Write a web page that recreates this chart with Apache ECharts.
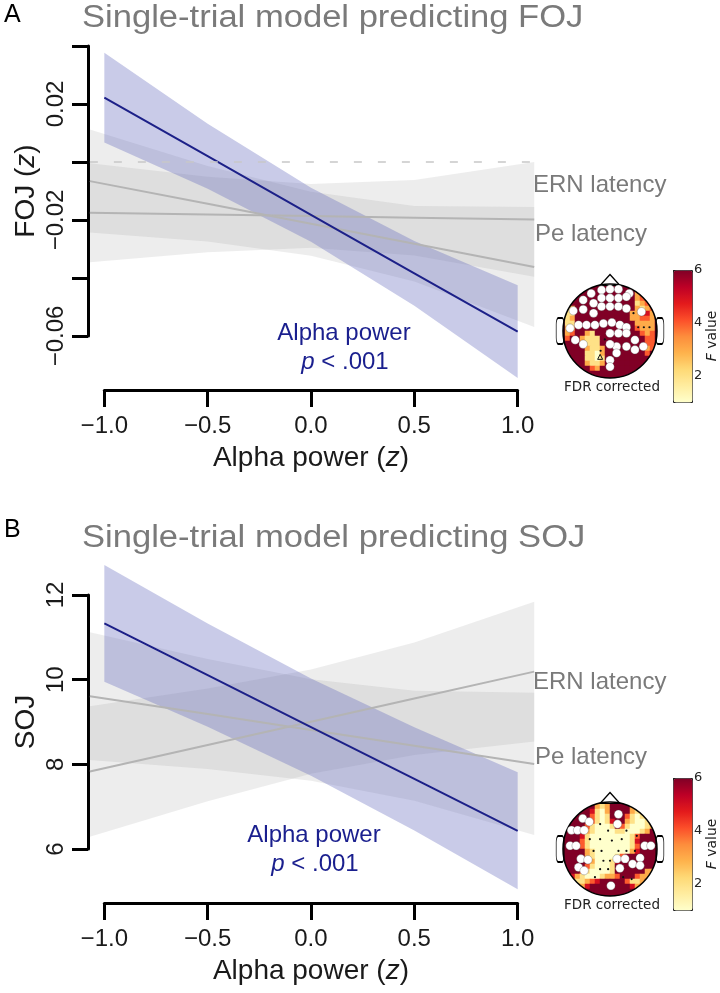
<!DOCTYPE html>
<html><head><meta charset="utf-8">
<script src="https://cdn.jsdelivr.net/npm/echarts@6/dist/echarts.min.js"></script>
<style>html,body{margin:0;padding:0;background:#fff}#c{width:720px;height:993px}</style>
</head><body><div id="c"></div>
<script>
// ================= DATA =================
const xFit = [-1, -0.5, 0, 0.5, 1];          // alpha power (z) where fit / CI were read
const xLat = [-1.07, -0.5, 0, 0.5, 1.08];    // x range of latency effects
const xTicks = [-1, -0.5, 0, 0.5, 1];

// Panel A : FOJ (z)
const alphaFitA = [0.0222, 0.0020, -0.0182, -0.0384, -0.0585];
const alphaLoA  = [0.0067, -0.0092, -0.0275, -0.0496, -0.0745];
const alphaHiA  = [0.0377, 0.0132, -0.0089, -0.0272, -0.0425];
const ernFitA = [-0.0175, -0.0181, -0.0186, -0.0192, -0.0198];
const ernLoA  = [-0.0346, -0.0311, -0.0296, -0.0322, -0.0396];
const ernHiA  = [-0.0004, -0.0051, -0.0076, -0.0062, 0.0000];
const peFitA  = [-0.0066, -0.0144, -0.0213, -0.0282, -0.0362];
const peLoA   = [-0.0243, -0.0274, -0.0323, -0.0412, -0.0569];
const peHiA   = [0.0112, -0.0014, -0.0103, -0.0152, -0.0155];
const refLineA = 0;
const yTicksA = [-0.06, 0.04, 0.02];          // [min, max, step]
const yLabelsA = [-0.06, -0.02, 0.02];

// Panel B : SOJ
const alphaFitB = [11.33, 10.105, 8.88, 7.655, 6.43];
const alphaLoB  = [9.95, 8.885, 7.73, 6.435, 5.05];
const alphaHiB  = [12.71, 11.325, 10.03, 8.875, 7.81];
const ernFitB = [7.83, 8.456, 9.005, 9.554, 10.19];
const ernLoB  = [6.29, 7.13, 7.78, 8.22, 8.54];
const ernHiB  = [9.37, 9.79, 10.24, 10.88, 11.84];
const peFitB  = [9.61, 9.19, 8.81, 8.44, 8.01];
const peLoB   = [8.10, 7.89, 7.61, 7.14, 6.33];
const peHiB   = [11.12, 10.49, 10.01, 9.74, 9.69];
const yTicksB = [6, 12, 2];
const yLabelsB = [6, 8, 10, 12];

// Topographic F maps (rows top->bottom, digits = F value)
const topoA = [
"66666666666666666666",
"66666666666666666666",
"66666666666666636666",
"66666666666666634666",
"62666666666666623466",
"62366666666666632346",
"62266666666666335536",
"62366666666666334436",
"62266666666666633336",
"63366666666666643336",
"63466326666666664346",
"64663222666666666446",
"66663222666666666446",
"66666322366666666346",
"66666221366666666466",
"66666221266666666666",
"66666322366666666666",
"66666643666666666666",
"66666666666666666666",
"66666666666666666666"];
const topoB = [
"66666662236666666666",
"66666663236666324666",
"66666652136666322466",
"66666642126664212366",
"66666642125663211246",
"66666421112642111236",
"66666321111221112366",
"66665211111111246666",
"66664211111111256666",
"66664211111111246666",
"66666321111111356666",
"66666321111246666666",
"66666631112566666666",
"66666421112666666666",
"66664211112666666336",
"66532111233466643356",
"66322345666664223666",
"66643566666666534666",
"66666666666666666666",
"66666666666666666666"];
// significant electrodes (head units, y down)
const sigA = [[-0.40,-0.80],[-0.18,-0.87],[0,-0.89],[0.18,-0.89],[0.41,-0.80],
[-0.57,-0.66],[-0.35,-0.59],[-0.18,-0.70],[0,-0.70],[0.18,-0.70],[0.35,-0.73],
[-0.78,-0.43],[-0.57,-0.46],[-0.35,-0.38],[-0.18,-0.52],[0,-0.52],[0.18,-0.52],[0.35,-0.48],
[-0.85,-0.06],[-0.67,-0.13],[-0.50,-0.13],[-0.32,-0.13],[-0.14,-0.16],[0.04,-0.18],[0.21,-0.13],[0.35,-0.08],
[-0.74,0.19],[-0.57,0.28],[0.0,0.05],[0.18,0.05],[0.35,0.05],[0.53,0.19],
[0.14,0.33],[0.35,0.33],[0.53,0.40],[0.71,0.33],[0.0,0.28],
[0.0,0.62],[0.14,0.47],[0.0,0.76],[0.67,-0.41]];
const nsA = [[0.50,-0.38],[0.60,-0.08],[0.72,-0.08],[0.84,-0.08],[-0.11,0.18],[-0.20,0.42]];
const refA = [[-0.21,0.55]];
const sigB = [[0.18,-0.74],[0.16,-0.53],[-0.58,-0.65],[-0.44,-0.58],[-0.82,-0.40],[-0.69,-0.40],[-0.55,-0.40],
[-0.85,-0.07],[-0.72,-0.07],[-0.62,0.21],[-0.47,0.23],[-0.67,0.39],[-0.55,0.46],
[0.74,-0.07],[0.87,-0.07],[0.15,0.21],[0.32,0.21],[0.48,0.32],[0.64,0.19],[0.64,0.35],[0.21,0.41],[0.02,0.78]];
const nsB = [[-0.21,-0.53],[-0.04,-0.39],[0.35,-0.39],[0.57,-0.28],[-0.21,-0.21],[0.04,-0.18],[0.25,-0.21],[-0.43,-0.21],
[-0.35,0.04],[-0.18,0.04],[0.18,0.04],[0.35,0.04],[0.53,0.04],[-0.14,0.25],[0,0.25],[-0.21,0.43],[-0.04,0.43],
[-0.32,0.60],[0.28,0.60],[0.46,0.64]];
const fRange = [1, 6];
const fTicks = [2, 4, 6];

// ================= STYLE / LAYOUT =================
const FONT = '"Liberation Sans", Arial, Helvetica, sans-serif';
const MFONT = '"DejaVu Sans", sans-serif';
const GRAY_BAND = 'rgba(140,140,140,0.16)';
const GRAY_LINE = '#b4b4b4';
const BLUE_BAND = 'rgba(100,105,190,0.35)';
const BLUE_LINE = '#1c2088';
const TXT_GRAY = '#7a7a7a';
const NAVY = '#1a1f8e';
const YlOrRd = ['#ffffcc','#ffeda0','#fed976','#feb24c','#fd8d3c','#fc4e2a','#e31a1c','#bd0026','#800026'];
const HEAD_R = 47, HEAT_HALF = 50;

const fmtNum = (v, d) => (v < -1e-12 ? '\u2212' : '') + Math.abs(v).toFixed(d);

const grids = [], xAxes = [], yAxes = [], series = [], graphics = [], vms = [];
function addGrid(g, xa, ya) {
  grids.push(g); const i = grids.length - 1;
  xAxes.push(Object.assign({gridIndex: i}, xa));
  yAxes.push(Object.assign({gridIndex: i}, ya));
  return i;
}
function band(g, xs, lo, hi, fill) {
  return {type: 'custom', xAxisIndex: g, yAxisIndex: g, silent: true, clip: false,
    data: [[xs[0], lo[0]]],
    renderItem: (params, api) => {
      const pts = [];
      xs.forEach((x, i) => pts.push(api.coord([x, hi[i]])));
      for (let i = xs.length - 1; i >= 0; i--) pts.push(api.coord([xs[i], lo[i]]));
      return {type: 'polygon', shape: {points: pts}, style: {fill: fill}};
    }};
}
function line(g, xs, ys, color, width, dash) {
  return {type: 'line', xAxisIndex: g, yAxisIndex: g, silent: true, clip: false, symbol: 'none',
    data: xs.map((x, i) => [x, ys[i]]),
    lineStyle: {color: color, width: width, type: dash || 'solid'}};
}
function text(t, x, y, size, color, align, extra) {
  graphics.push(Object.assign({type: 'text', x: x, y: y, z: 100,
    style: {text: t, fontSize: size, fontFamily: FONT, fill: color, align: align || 'left', verticalAlign: 'middle'}}, extra || {}));
}
function heatData(rows) {
  const out = [], n = rows.length, cell = 2 * HEAT_HALF / n;
  rows.forEach((row, r) => {
    for (let c = 0; c < row.length; c++) {
      const x0 = -HEAT_HALF + c * cell, x1 = x0 + cell, y0 = -HEAT_HALF + r * cell, y1 = y0 + cell;
      const nx = Math.max(x0, Math.min(0, x1)), ny = Math.max(y0, Math.min(0, y1));
      if (nx * nx + ny * ny < HEAD_R * HEAD_R) out.push([c, r, +row[c]]);
    }
  });
  return out;
}
const axisTxt = {fontSize: 24, color: '#1a1a1a', fontFamily: FONT};
const nameStyle = {fontSize: 28, color: '#1a1a1a', fontFamily: FONT,
  rich: {i: {fontSize: 28, fontStyle: 'italic', color: '#1a1a1a', fontFamily: FONT}}};

function buildPanel(P) {
  // ---- data grid ----
  const d = addGrid({left: 87.8, top: P.dataTop, width: 446.4, height: P.dataH},
    {type: 'value', min: -1.08, max: 1.08, show: false},
    {type: 'value', min: P.dataMin, max: P.dataMax, show: false});
  series.push(band(d, xLat, P.ernLo, P.ernHi, GRAY_BAND));
  series.push(band(d, xLat, P.peLo, P.peHi, GRAY_BAND));
  series.push(line(d, xLat, P.ernFit, GRAY_LINE, 2));
  series.push(line(d, xLat, P.peFit, GRAY_LINE, 2));
  series.push(band(d, xFit, P.aLo, P.aHi, BLUE_BAND));
  series.push(line(d, xFit, P.aFit, BLUE_LINE, 2));
  if (P.ref !== undefined) {
    series.push(line(d, [xLat[0], xLat[xLat.length - 1]], [P.ref, P.ref], '#c8c8c8', 1.5, [8, 16]));
  }
  // ---- y axis ----
  addGrid({left: 88, top: P.yTop, width: 10, height: P.yH},
    {type: 'value', show: false, min: 0, max: 1},
    {type: 'value', position: 'left', min: P.yT[0], max: P.yT[1], interval: P.yT[2],
      axisLine: {show: true, lineStyle: {color: '#000', width: 3}},
      axisTick: {show: true, length: 16, lineStyle: {color: '#000', width: 3}},
      axisLabel: Object.assign({rotate: 90, margin: 20, formatter: v => {
        const m = P.yLab.find(t => Math.abs(t - v) < 1e-9);
        return m === undefined ? '' : fmtNum(m, P.yDec);
      }}, axisTxt),
      splitLine: {show: false},
      name: P.yName, nameLocation: 'middle', nameGap: 48, nameTextStyle: nameStyle});
  // ---- x axis ----
  addGrid({left: 104.3, top: P.xAxisY - 90, width: 413.3, height: 90},
    {type: 'value', position: 'bottom', min: xTicks[0], max: xTicks[xTicks.length - 1], interval: xTicks[1] - xTicks[0],
      axisLine: {show: true, lineStyle: {color: '#000', width: 3}},
      axisTick: {show: true, length: 17, lineStyle: {color: '#000', width: 3}},
      axisLabel: Object.assign({margin: 24, formatter: v => fmtNum(v, 1)}, axisTxt),
      splitLine: {show: false},
      name: 'Alpha power ({i|z})', nameLocation: 'middle', nameGap: 54, nameTextStyle: nameStyle},
    {type: 'value', show: false});
  // ---- topomap heat ----
  const cats = P.topo[0].split('').map((_, i) => i);
  const h = addGrid({left: P.cx - HEAT_HALF, top: P.cy - HEAT_HALF, width: 2 * HEAT_HALF, height: 2 * HEAT_HALF},
    {type: 'category', data: cats, show: false},
    {type: 'category', data: cats, show: false, inverse: true});
  series.push({type: 'heatmap', xAxisIndex: h, yAxisIndex: h, data: heatData(P.topo), silent: true,
    itemStyle: {borderWidth: 0}, emphasis: {disabled: true}});
  const heatIdx = series.length - 1;
  // ---- head outline & electrodes ----
  const half = 1.25 * HEAD_R;
  const k = addGrid({left: P.cx - half, top: P.cy - half, width: 2 * half, height: 2 * half},
    {type: 'value', min: -1.25, max: 1.25, show: false},
    {type: 'value', min: -1.25, max: 1.25, show: false, inverse: true});
  const sc = (data, o) => {
    const s = Object.assign({type: 'scatter', xAxisIndex: k, yAxisIndex: k, silent: true, data: data}, o);
    s.itemStyle = Object.assign({opacity: 1}, s.itemStyle);
    return s;
  };
  series.push(sc([[0, 0]], {symbol: 'circle', symbolSize: 2 * HEAD_R + 14,
    itemStyle: {color: 'rgba(0,0,0,0)', borderColor: '#fff', borderWidth: 14}}));
  series.push(sc([[-1.06, 0], [1.06, 0]], {symbol: 'roundRect', symbolSize: [8, 26],
    itemStyle: {color: 'rgba(0,0,0,0)', borderColor: '#000', borderWidth: 1.2}}));
  series.push(sc([[0, -1.085]], {symbol: 'triangle', symbolSize: [20, 11],
    itemStyle: {color: '#fff', borderColor: '#000', borderWidth: 1.2}}));
  series.push(sc([[0, 0]], {symbol: 'circle', symbolSize: 2 * HEAD_R,
    itemStyle: {color: 'rgba(0,0,0,0)', borderColor: '#000', borderWidth: 1.5}}));
  series.push(sc(P.ns, {symbol: 'circle', symbolSize: 2.2, itemStyle: {color: '#111'}}));
  if (P.refE) series.push(sc(P.refE, {symbol: 'triangle', symbolSize: 5,
    itemStyle: {color: 'rgba(0,0,0,0)', borderColor: '#111', borderWidth: 1}}));
  series.push(sc(P.sig, {symbol: 'circle', symbolSize: 8.5,
    itemStyle: {color: '#fff', borderColor: 'rgba(60,60,60,0.5)', borderWidth: 0.6}}));
  // ---- colorbar ----
  vms.push({type: 'continuous', seriesIndex: heatIdx, min: fRange[0], max: fRange[1],
    left: 673, top: P.cbTop, itemWidth: 19, itemHeight: 132, padding: 0,
    calculable: false, hoverLink: false, realtime: false,
    borderColor: '#222', borderWidth: 1,
    inRange: {color: YlOrRd}, textStyle: {color: 'rgba(0,0,0,0)'}});
  addGrid({left: 673, top: P.cbTop, width: 19, height: 132},
    {type: 'value', show: false},
    {type: 'value', position: 'right', min: fRange[0], max: fRange[1],
      axisLine: {show: false},
      axisTick: {show: true, customValues: fTicks, length: 3, lineStyle: {color: '#222', width: 1}},
      axisLabel: {customValues: fTicks, margin: 5, fontSize: 13, color: '#222', fontFamily: MFONT},
      splitLine: {show: false},
      name: '{i|F} value', nameLocation: 'middle', nameGap: 16, nameMoveOverlap: false,
      nameTextStyle: {fontSize: 14, color: '#222', fontFamily: MFONT,
        rich: {i: {fontSize: 14, fontStyle: 'italic', color: '#222', fontFamily: MFONT}}}});
  // ---- texts ----
  text(P.letter, 4, P.letterY, 25, '#000');
  text(P.title, 82, P.titleY, 31, TXT_GRAY, 'left', {scaleX: 1.115});
  text('ERN latency', 533, P.ernLabY, 24, TXT_GRAY);
  text('Pe latency', 535, P.peLabY, 24, TXT_GRAY);
  text('Alpha power', P.apX, P.apY, 24, NAVY, 'center');
  graphics.push({type: 'text', x: P.apX + 1, y: P.apY + 29, z: 100,
    style: {text: '{i|p} < .001', fontSize: 24, fontFamily: FONT, fill: NAVY, align: 'center', verticalAlign: 'middle',
      rich: {i: {fontSize: 24, fontStyle: 'italic', fontFamily: FONT, fill: NAVY}}}});
  graphics.push({type: 'text', x: P.cx + 2, y: P.cy + 56, z: 100,
    style: {text: 'FDR corrected', fontSize: 13.5, fontFamily: MFONT, fill: '#222', align: 'center', verticalAlign: 'middle'}});
}

buildPanel({letter: 'A', letterY: 15, title: 'Single-trial model predicting FOJ', titleY: 18,
  dataTop: 46, dataH: 348, dataMin: -0.08, dataMax: 0.04,
  yTop: 46, yH: 290, yT: yTicksA, yLab: yLabelsA, yDec: 2, yName: 'FOJ ({i|z})',
  xAxisY: 390, ref: refLineA,
  aFit: alphaFitA, aLo: alphaLoA, aHi: alphaHiA,
  ernFit: ernFitA, ernLo: ernLoA, ernHi: ernHiA, peFit: peFitA, peLo: peLoA, peHi: peHiA,
  ernLabY: 185, peLabY: 234, apX: 344, apY: 333,
  topo: topoA, sig: sigA, ns: nsA, refE: refA, cx: 610, cy: 331, cbTop: 270});
buildPanel({letter: 'B', letterY: 530, title: 'Single-trial model predicting SOJ', titleY: 538,
  dataTop: 552.67, dataH: 347.1, dataMin: 4.8, dataMax: 13,
  yTop: 595, yH: 254, yT: yTicksB, yLab: yLabelsB, yDec: 0, yName: 'SOJ',
  xAxisY: 903,
  aFit: alphaFitB, aLo: alphaLoB, aHi: alphaHiB,
  ernFit: ernFitB, ernLo: ernLoB, ernHi: ernHiB, peFit: peFitB, peLo: peLoB, peHi: peHiB,
  ernLabY: 682, peLabY: 757, apX: 314, apY: 835,
  topo: topoB, sig: sigB, ns: nsB, cx: 610, cy: 849, cbTop: 778});

const chart = echarts.init(document.getElementById('c'), null, {renderer: 'canvas'});
chart.setOption({animation: false, backgroundColor: '#fff', grid: grids, xAxis: xAxes, yAxis: yAxes,
  visualMap: vms, series: series, graphic: {elements: graphics}});
</script></body></html>
